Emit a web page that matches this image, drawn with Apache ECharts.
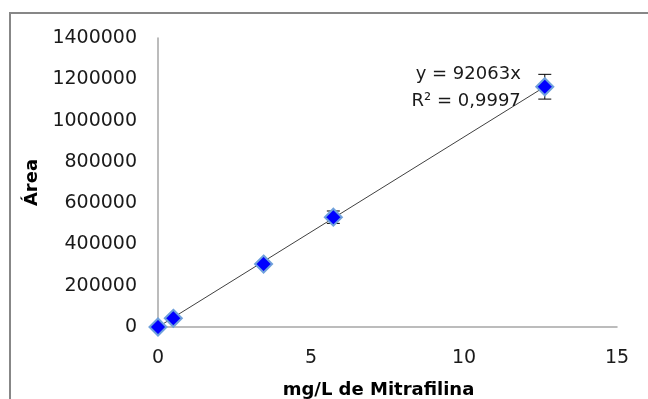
<!DOCTYPE html>
<html>
<head>
<meta charset="utf-8">
<script src="https://cdn.jsdelivr.net/npm/echarts@6/dist/echarts.min.js"></script>
<style>
  html, body { margin: 0; padding: 0; background: #fff; }
  #chart { width: 648px; height: 399px; }
</style>
</head>
<body>
<div id="chart"></div>
<script>
// concentrations (mg/L) and peak areas
var concX = [0, 0.5, 3.45, 5.73, 12.64];
var areaY = [0, 42000, 305000, 532000, 1164000];
var areaErr = [0, 6000, 10000, 30000, 60000];

// trend line y = 92063x, drawn between its two ends
var trendX = [0, 12.64];
var trendY = [0, 1163700];

var xTicks = [0, 5, 10, 15];
var yTicks = [0, 200000, 400000, 600000, 800000, 1000000, 1200000, 1400000];

var eqText = ['y = 92063x', 'R² = 0,9997'];

var font = 'DejaVu Sans';

var points = concX.map(function (x, i) { return [x, areaY[i]]; });
var errData = concX.map(function (x, i) { return [x, areaY[i] - areaErr[i], areaY[i] + areaErr[i]]; });
var trendData = trendX.map(function (x, i) { return [x, trendY[i]]; });

var myChart = echarts.init(document.getElementById('chart'));

var option = {
  backgroundColor: '#fff',
  animation: false,
  grid: { left: 158, right: 31, top: 38, bottom: 72, containLabel: false, outerBoundsMode: 'none' },
  xAxis: {
    type: 'value',
    min: xTicks[0],
    max: xTicks[xTicks.length - 1],
    interval: 5,
    name: 'mg/L de Mitrafilina',
    nameLocation: 'middle',
    nameGap: 54,
    nameTextStyle: { fontFamily: font, fontWeight: 'bold', fontSize: 18, color: '#000', padding: [0, 18, 0, 0] },
    axisLine: { show: true, lineStyle: { color: '#a6a6a6', width: 1.5 } },
    axisTick: { show: false },
    splitLine: { show: false },
    axisLabel: { fontFamily: font, fontSize: 19, color: '#1a1a1a', margin: 22, formatter: function (v) { return String(v); } }
  },
  yAxis: {
    type: 'value',
    min: yTicks[0],
    max: yTicks[yTicks.length - 1],
    interval: 200000,
    name: 'Área',
    nameLocation: 'middle',
    nameGap: 104,
    nameTextStyle: { fontFamily: font, fontWeight: 'bold', fontSize: 18, color: '#000' },
    axisLine: { show: true, lineStyle: { color: '#a6a6a6', width: 1.5 } },
    axisTick: { show: false },
    splitLine: { show: false },
    axisLabel: { fontFamily: font, fontSize: 19, color: '#1a1a1a', margin: 21, formatter: function (v) { return String(v); } }
  },
  graphic: [
    {
      type: 'rect',
      shape: { x: 10, y: 13, width: 700, height: 500 },
      style: { fill: 'none', stroke: '#878787', lineWidth: 2 },
      silent: true
    }
  ],
  series: [
    {
      type: 'line',
      data: trendData,
      symbol: 'none',
      lineStyle: { color: '#404040', width: 1 },
      z: 2
    },
    {
      type: 'custom',
      data: errData,
      renderItem: function (params, api) {
        var x = api.value(0);
        var lo = api.coord([x, api.value(1)]);
        var hi = api.coord([x, api.value(2)]);
        var w = 6.5;
        var st = { stroke: '#000', lineWidth: 1 };
        return {
          type: 'group',
          children: [
            { type: 'line', shape: { x1: lo[0], y1: lo[1], x2: hi[0], y2: hi[1] }, style: st },
            { type: 'line', shape: { x1: lo[0] - w, y1: lo[1], x2: lo[0] + w, y2: lo[1] }, style: st },
            { type: 'line', shape: { x1: hi[0] - w, y1: hi[1], x2: hi[0] + w, y2: hi[1] }, style: st }
          ]
        };
      },
      z: 3
    },
    {
      type: 'scatter',
      data: points,
      symbol: 'diamond',
      symbolSize: 17,
      itemStyle: { color: '#0000ff', opacity: 1, borderColor: '#6fa0dc', borderWidth: 2 },
      z: 4,
      markPoint: {
        symbol: 'circle',
        symbolSize: 1,
        itemStyle: { color: 'rgba(0,0,0,0)' },
        data: [
          {
            coord: [12.64, 1164000],
            label: {
              show: true,
              position: 'inside',
              formatter: eqText.join('\n'),
              fontFamily: font,
              fontSize: 18,
              lineHeight: 27,
              color: '#1a1a1a',
              align: 'right',
              verticalAlign: 'middle',
              offset: [-24, 1]
            }
          }
        ]
      }
    }
  ]
};

myChart.setOption(option);
</script>
</body>
</html>
